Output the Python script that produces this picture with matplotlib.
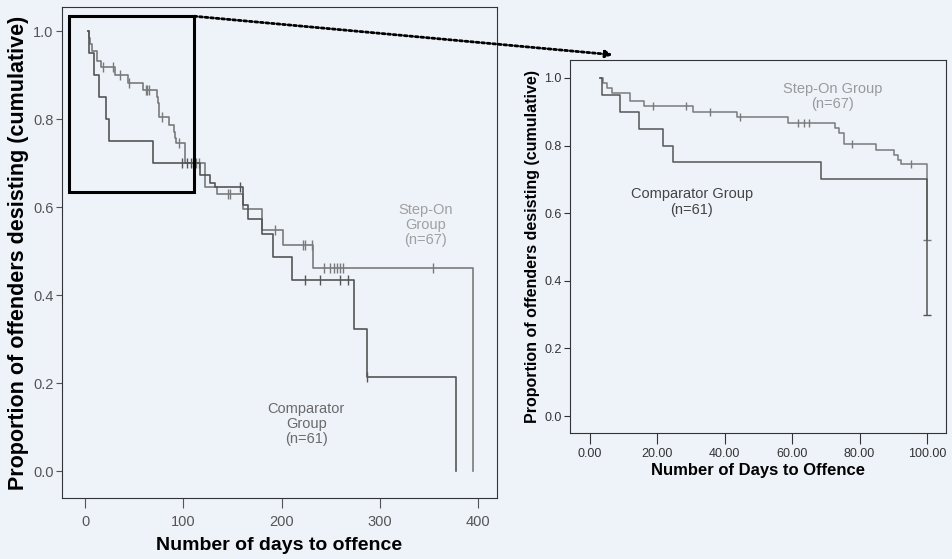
import numpy as np
import matplotlib
matplotlib.use('Agg')
import matplotlib.pyplot as plt
from matplotlib.patches import Rectangle

# Kaplan-Meier style data (days, proportion after each drop)
step_times = [3, 4.0, 5.2, 6.7, 11.9, 16.0, 30.5, 43.7, 58.9, 72.7, 74.0, 75.5, 84.9,
              90.2, 91.5, 92.2, 101.7, 122, 134, 161, 179.7, 201.8, 232.3, 395]
step_surv = [1.0, 0.985, 0.970, 0.955, 0.933, 0.918, 0.900, 0.883, 0.866, 0.851, 0.836,
             0.806, 0.787, 0.772, 0.757, 0.745, 0.700, 0.646, 0.629, 0.597, 0.548, 0.514,
             0.461, 0.0]
step_cens = [18.7, 28.5, 35.6, 44.5, 61.8, 63.5, 65.1, 77.8, 95.3, 110, 113, 116, 145.8,
             147.5, 193.3, 222, 224, 231, 243, 249, 253, 256.7, 259.4, 262.8, 354.3]

comp_times = [3, 3.7, 8.9, 14.6, 21.6, 24.7, 68.7, 117, 127, 132, 161, 166, 179.7, 191.6,
              210.3, 273.6, 287.2, 377]
comp_surv = [1.0, 0.95, 0.90, 0.85, 0.80, 0.75, 0.70, 0.673, 0.654, 0.646, 0.605, 0.574,
             0.540, 0.487, 0.434, 0.324, 0.214, 0.0]
comp_cens = [99, 104, 108, 157.7, 223.8, 239, 259.4, 267.9, 287.2]

# the zoomed panel is cut at 100 days and ends on these values
inset_cut = 100
inset_tail_step = 0.52
inset_tail_comp = 0.30

left_xticks = [0, 100, 200, 300, 400]
left_yticks = [0.0, 0.2, 0.4, 0.6, 0.8, 1.0]
right_xticks = [0, 20, 40, 60, 80, 100]
right_yticks = [0.0, 0.2, 0.4, 0.6, 0.8, 1.0]

BG = '#eef2f9'
STEP_C = '#7a7a7a'
COMP_C = '#555555'
plt.rcParams['font.family'] = ['Liberation Sans', 'DejaVu Sans']


def value_at(times, surv, t):
    idx = np.searchsorted(times, t, side='right') - 1
    return np.asarray(surv)[idx]


def draw_km(ax, times, surv, cens, color):
    ax.step(times, surv, where='post', color=color, lw=1.2)
    c = np.asarray(cens)
    ax.plot(c, value_at(times, surv, c), ls='none', marker='|', ms=7, mew=1.0, color=color)


fig = plt.figure(figsize=(9.53, 5.59), dpi=100, facecolor=BG)

# ---- left: full follow-up
ax1 = fig.add_axes([0.0651, 0.1091, 0.4564, 0.8784], facecolor=BG)
draw_km(ax1, step_times, step_surv, step_cens, STEP_C)
draw_km(ax1, comp_times, comp_surv, comp_cens, COMP_C)
ax1.set_xlim(-23.4, 419)
ax1.set_ylim(-0.061, 1.055)
ax1.set_xticks(left_xticks)
ax1.set_xticklabels([str(v) for v in left_xticks])
ax1.set_yticks(left_yticks)
ax1.set_yticklabels(['%.1f' % v for v in left_yticks])
ax1.tick_params(axis='x', direction='out', length=7, colors='#555555', labelsize=10.5, pad=5)
ax1.tick_params(axis='y', direction='out', length=4, colors='#555555', labelsize=10.5, pad=2)
for s in ax1.spines.values():
    s.set_color('#333333')
ax1.set_xlabel('Number of days to offence', fontsize=14, fontweight='bold', labelpad=6)
ax1.set_ylabel('Proportion of offenders desisting (cumulative)', fontsize=15.5,
               fontweight='bold', labelpad=3)
ax1.text(346, 0.559, 'Step-On\nGroup\n(n=67)', ha='center', va='center', fontsize=10.5,
         color='#a0a0a0', linespacing=1.1)
ax1.text(225, 0.107, 'Comparator\nGroup\n(n=61)', ha='center', va='center', fontsize=10.5,
         color='#6a6a6a', linespacing=1.1)

# zoom box and dotted arrow to the right panel
ax1.add_patch(Rectangle((-16.3, 0.634), 127.2, 0.40, fill=False, lw=2.2, ec='black',
                        clip_on=False, zorder=5))
ax1.annotate('', xy=(0.643, 0.902), xycoords='figure fraction', xytext=(110.9, 1.034),
             textcoords='data',
             arrowprops=dict(arrowstyle='-|>', ls=(0, (1, 1)), lw=2, color='black',
                             shrinkA=0, shrinkB=0, mutation_scale=10))

# ---- right: first 100 days
ax2 = fig.add_axes([0.598, 0.2254, 0.3946, 0.6673], facecolor=BG)
for times, surv, cens, tail, color in [(step_times, step_surv, step_cens, inset_tail_step, STEP_C),
                                       (comp_times, comp_surv, comp_cens, inset_tail_comp, COMP_C)]:
    t = np.asarray(times)
    s = np.asarray(surv)
    keep = t <= inset_cut
    tt = np.concatenate([t[keep], [inset_cut, inset_cut]])
    ss = np.concatenate([s[keep], [value_at(times, surv, inset_cut), tail]])
    ax2.step(tt, ss, where='post', color=color, lw=1.1)
    c = np.asarray(cens)
    c = c[c < inset_cut - 1]
    ax2.plot(c, value_at(times, surv, c), ls='none', marker='|', ms=6, mew=1.0, color=color)
    ax2.plot([inset_cut], [tail], ls='none', marker='_', ms=6, mew=1.0, color=color)
ax2.set_xlim(-5.9, 105.6)
ax2.set_ylim(-0.05, 1.053)
ax2.set_xticks(right_xticks)
ax2.set_xticklabels(['%.2f' % v for v in right_xticks])
ax2.set_yticks(right_yticks)
ax2.set_yticklabels(['%.1f' % v for v in right_yticks])
ax2.tick_params(axis='x', direction='out', length=8, colors='#333333', labelsize=9, pad=3)
ax2.tick_params(axis='y', direction='out', length=4, colors='#333333', labelsize=9, pad=2)
for s in ax2.spines.values():
    s.set_color('#333333')
ax2.set_xlabel('Number of Days to Offence', fontsize=12, fontweight='bold', labelpad=2)
ax2.set_ylabel('Proportion of offenders desisting (cumulative)', fontsize=11.5,
               fontweight='bold', labelpad=3)
ax2.text(72, 0.944, 'Step-On Group\n(n=67)', ha='center', va='center', fontsize=10.5,
         color='#9a9a9a', linespacing=1.1)
ax2.text(30.3, 0.633, 'Comparator Group\n(n=61)', ha='center', va='center', fontsize=10.5,
         color='#444444', linespacing=1.1)

fig.savefig('out.png', dpi=100, facecolor=BG)
